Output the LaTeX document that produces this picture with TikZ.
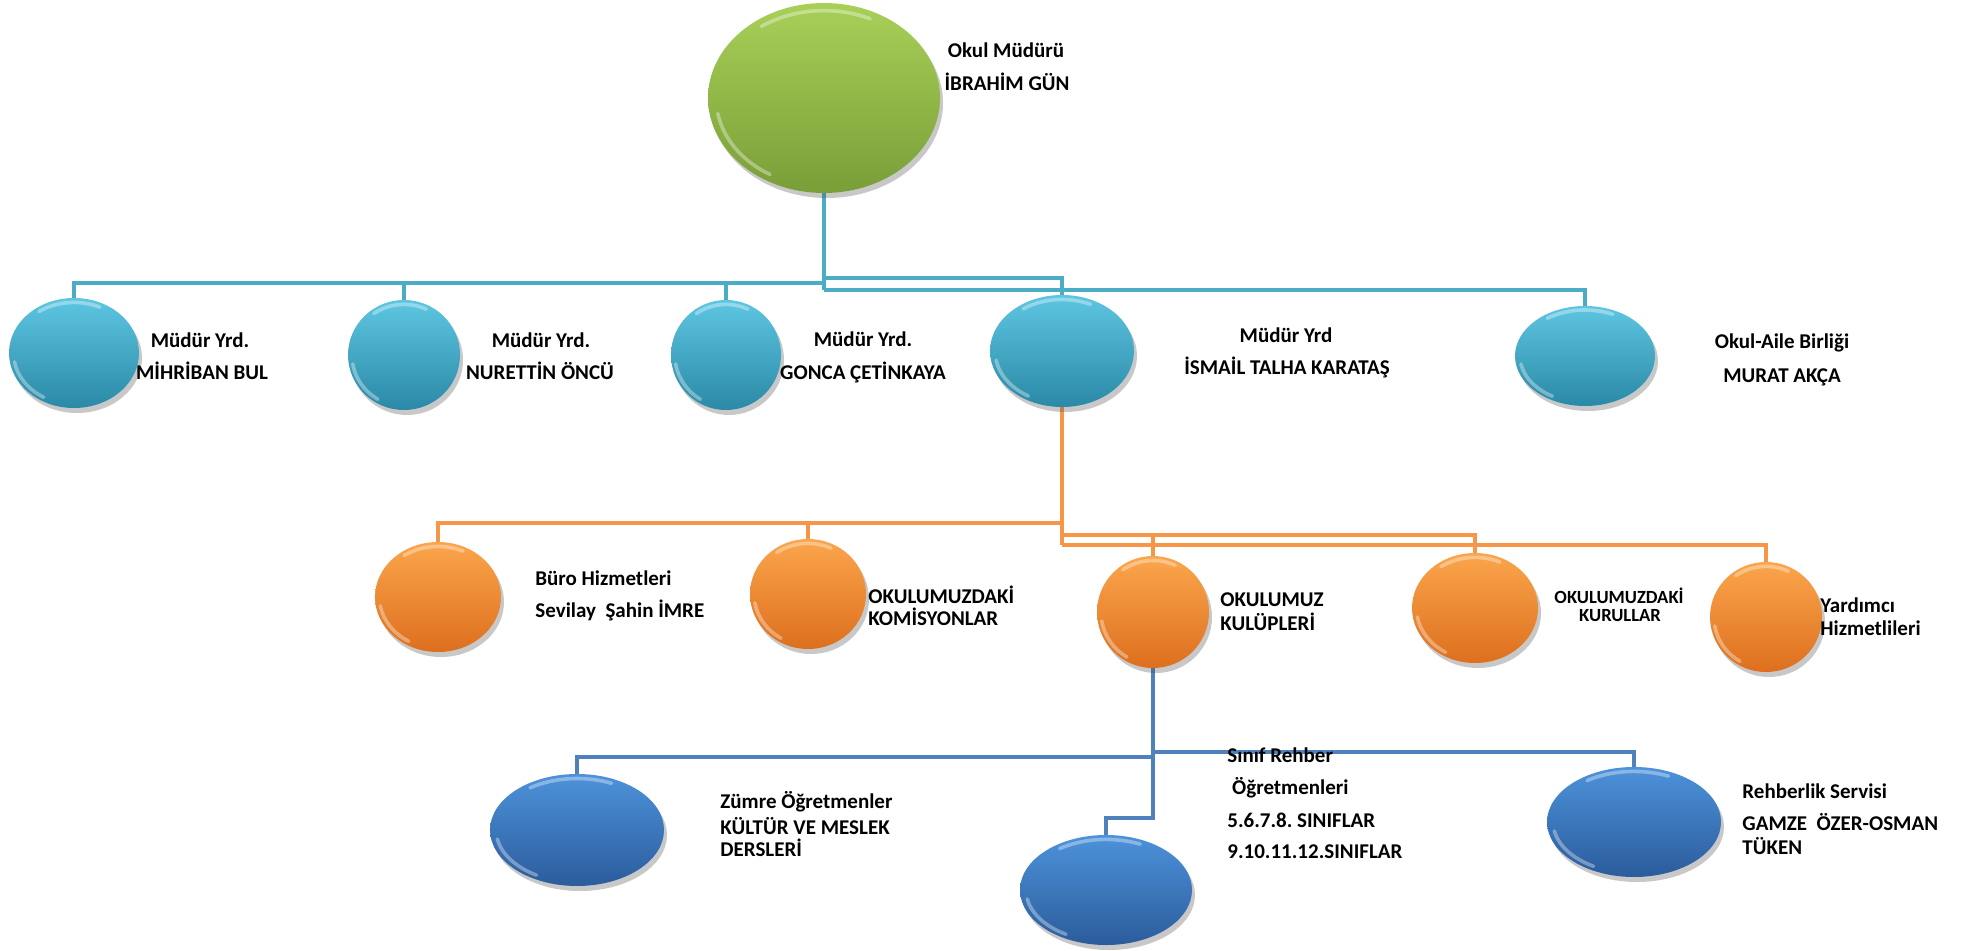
\documentclass[tikz,border=0pt]{standalone}
\usepackage{fontspec}
\setmainfont{Carlito}
\usetikzlibrary{shapes.geometric,shadows,calc}
\definecolor{tealL}{HTML}{4BACC6}
\definecolor{tealT}{HTML}{5EC6E2}
\definecolor{tealB}{HTML}{2A89A6}
\definecolor{orL}{HTML}{F79646}
\definecolor{orT}{HTML}{FBA64C}
\definecolor{orB}{HTML}{DD6F1E}
\definecolor{blL}{HTML}{4F81BD}
\definecolor{blT}{HTML}{4D92DA}
\definecolor{blB}{HTML}{2B5C9C}
\definecolor{grT}{HTML}{A8D058}
\definecolor{grB}{HTML}{7A9E38}
\pgfdeclarelayer{bg}
\pgfsetlayers{bg,main}
\frenchspacing
\begin{document}
\begin{tikzpicture}[x=0.5pt,y=-0.5pt,
  gloss/.style={path picture={
    \path let \p1=(path picture bounding box.center),
              \p2=(path picture bounding box.north east),
              \n1={0.93*(\x2-\x1)}, \n2={0.93*(\y2-\y1)},
              \n3={0.94*(\x2-\x1)}, \n4={0.92*(\y2-\y1)} in
      [draw=white, draw opacity=0.8, line width=1.5pt, line cap=round]
      ({\x1+\n1*cos(190)},{\y1+\n2*sin(190)}) arc[start angle=190, end angle=240, x radius=\n1, y radius=\n2]
      [draw=white, draw opacity=0.35, line width=1.8pt]
      ({\x1+\n3*cos(65)},{\y1+\n4*sin(65)}) arc[start angle=65, end angle=125, x radius=\n3, y radius=\n4];
  }},
  orb/.style={ellipse, draw=none, inner sep=0pt, gloss,
    drop shadow={opacity=0.3, shadow xshift=1.5pt, shadow yshift=-2.5pt, fill=black!70}},
  grorb/.style={orb, top color=grT, bottom color=grB},
  teorb/.style={orb, top color=tealT, bottom color=tealB},
  ororb/.style={orb, top color=orT, bottom color=orB},
  blorb/.style={orb, top color=blT, bottom color=blB},
  tline/.style={draw=tealL, line width=2.4pt},
  oline/.style={draw=orL, line width=2.4pt},
  bline/.style={draw=blL, line width=2.2pt},
  lbl/.style={inner sep=0pt, font=\fontsize{10.5}{12}\selectfont\bfseries},
  lblw/.style={lbl, anchor=west},
  slbl/.style={lbl, font=\fontsize{9.3}{11}\selectfont\bfseries}
]
\useasboundingbox (0,0) rectangle (1962,951);

% ---- ellipses
\node[grorb, minimum width=116pt, minimum height=95pt] (top) at (824,98) {};
\node[teorb, minimum width=65pt, minimum height=55pt] (mih) at (74,353) {};
\node[teorb, minimum width=56pt, minimum height=55pt] (nur) at (404,355) {};
\node[teorb, minimum width=55pt, minimum height=55pt] (gon) at (726,355) {};
\node[teorb, minimum width=72pt, minimum height=56pt] (ism) at (1062,351) {};
\node[teorb, minimum width=70pt, minimum height=50pt] (oab) at (1585,356) {};
\node[ororb, minimum width=63pt, minimum height=55pt] (buro) at (438,597) {};
\node[ororb, minimum width=58pt, minimum height=55pt] (kom) at (808,594) {};
\node[ororb, minimum width=56pt, minimum height=56pt] (kul) at (1153,612) {};
\node[ororb, minimum width=63pt, minimum height=55pt] (kur) at (1475,608) {};
\node[ororb, minimum width=56pt, minimum height=55pt] (yar) at (1766,617) {};
\node[blorb, minimum width=87pt, minimum height=56pt] (zum) at (577,830) {};
\node[blorb, minimum width=86pt, minimum height=55pt] (sin) at (1106,890) {};
\node[blorb, minimum width=87pt, minimum height=55pt] (reh) at (1634,822) {};

% ---- bus levels
\coordinate (busA) at (0,283);
\coordinate (busB) at (0,278);
\coordinate (busC) at (0,290);
\coordinate (bo1) at (0,523);
\coordinate (bo2) at (0,535);
\coordinate (bo3) at (0,545);
\coordinate (bb1) at (0,757);
\coordinate (bb2) at (0,752);
\coordinate (bb3) at (0,818);

\begin{pgfonlayer}{bg}
\fill[white] (0,0) rectangle (1962,951);
\draw[tline] (top.south) -- (top.south |- busC);
\draw[tline] (top.south |- busA) -| (mih.north);
\draw[tline] (nur.north) -- (nur.north |- busA);
\draw[tline] (gon.north) -- (gon.north |- busA);
\draw[tline] (top.south |- busB) -| (ism.north);
\draw[tline] (top.south |- busC) -| (oab.north);

\draw[oline] (ism.south) -- (ism.south |- bo3);
\draw[oline] (ism.south |- bo1) -| (buro.north);
\draw[oline] (kom.north) -- (kom.north |- bo1);
\draw[oline] (ism.south |- bo2) -| (kur.north);
\draw[oline] (kul.north) -- (kul.north |- bo2);
\draw[oline] (ism.south |- bo3) -| (yar.north);

\draw[bline] (kul.south) -- (kul.south |- bb3) -| (sin.north);
\draw[bline] (kul.south |- bb1) -| (zum.north);
\draw[bline] (kul.south |- bb2) -| (reh.north);
\end{pgfonlayer}

% ---- labels
\node[lbl] (t1) at (1006,50) {Okul Müdürü};
\node[lbl] (t2) at (1007,82) {İBRAHİM GÜN};

\node[lbl] (m1) at (200,340) {Müdür Yrd.};
\node[lbl] (m2) at (202,371) {MİHRİBAN BUL};
\node[lbl] (n1) at (541,340) {Müdür Yrd.};
\node[lbl] (n2) at (540,371) {NURETTİN ÖNCÜ};
\node[lbl] (g1) at (863,339) {Müdür Yrd.};
\node[lbl] (g2) at (863,372) {GONCA ÇETİNKAYA};
\node[lbl] (i1) at (1286,335) {Müdür Yrd};
\node[lbl] (i2) at (1287,367) {İSMAİL TALHA KARATAŞ};
\node[lbl] (o1) at (1782,343) {Okul-Aile Birliği};
\node[lbl] (o2) at (1782,377) {MURAT AKÇA};

\node[lblw] (b1) at (535,578) {Büro Hizmetleri};
\node[lblw] (b2) at (535,610) {Sevilay\ \ Şahin İMRE};
\node[lblw] (k1) at (868,595) {OKULUMUZDAKİ};
\node[lblw] (k2) at (868,617) {KOMİSYONLAR};
\node[lblw] (u1) at (1220,600) {OKULUMUZ};
\node[lblw] (u2) at (1220,622) {KULÜPLERİ};
\node[slbl] (r1) at (1619,596) {OKULUMUZDAKİ};
\node[slbl] (r2) at (1620,616) {KURULLAR};
\node[lblw] (y1) at (1820,605) {Yardımcı};
\node[lblw] (y2) at (1820,628) {Hizmetlileri};

\node[lblw] (z1) at (720,802) {Zümre Öğretmenler};
\node[lblw] (z2) at (720,826) {KÜLTÜR VE MESLEK};
\node[lblw] (z3) at (720,848) {DERSLERİ};
\node[lblw] (s1) at (1227,755) {Sınıf Rehber};
\node[lblw] (s2) at (1227,788) {\ Öğretmenleri};
\node[lblw] (s3) at (1227,820) {5.6.7.8. SINIFLAR};
\node[lblw] (s4) at (1227,852) {9.10.11.12.SINIFLAR};
\node[lblw] (h1) at (1742,791) {Rehberlik Servisi};
\node[lblw] (h2) at (1742,822) {GAMZE\ \ ÖZER-OSMAN};
\node[lblw] (h3) at (1742,846) {TÜKEN};
\end{tikzpicture}
\end{document}
